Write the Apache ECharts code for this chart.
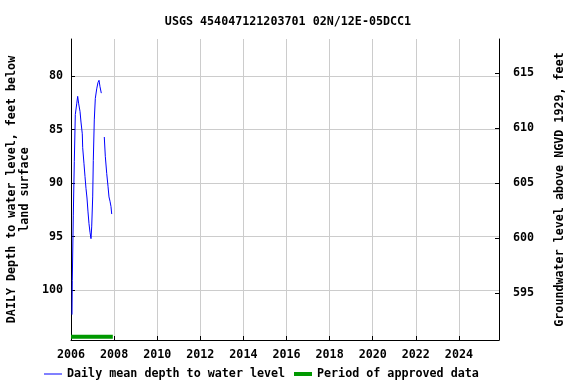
<!DOCTYPE html>
<html><head><meta charset="utf-8">
<script src="https://cdn.jsdelivr.net/npm/echarts@6/dist/echarts.min.js"></script>
<style>html,body{margin:0;padding:0;background:#fff}#c{width:576px;height:384px}</style>
</head><body><div id="c"></div>
<script>
// decimal years
var years = [2006.046,2006.06,2006.107,2006.153,2006.2,2006.265,2006.31,2006.357,2006.418,2006.464,2006.524,2006.543,2006.603,2006.65,2006.696,2006.742,2006.789,2006.835,2006.882,2006.928,2006.96,2007.007,2007.035,2007.081,2007.128,2007.193,2007.253,2007.3,2007.346,2007.406,2007.47,2007.545,2007.592,2007.657,2007.717,2007.763,2007.81,2007.856,2007.889];
var depth = [102.3,99.1,93.0,88.0,83.6,82.6,81.9,82.6,83.3,84.3,85.4,86.7,88.2,89.4,90.5,91.4,92.7,93.8,94.6,95.2,94.1,91.3,87.9,84.1,82.1,81.2,80.6,80.4,81.0,81.6,null,85.7,87.5,89.1,90.3,91.3,91.7,92.2,92.9];
var approvedYears = [2006.0,2007.94];
var approvedLevel = [104.36,104.36];
var xTicks = [2006,2008,2010,2012,2014,2016,2018,2020,2022,2024];
var leftTicks = [80,85,90,95,100];
var rightTicks = [595,600,605,610,615];
var font = 'DejaVu Sans Mono';
var fs = 11.7;
var chart = echarts.init(document.getElementById('c'));
chart.setOption({
  animation:false,
  backgroundColor:'#fff',
  title:{text:'USGS 454047121203701 02N/12E-05DCC1',left:'center',top:11,textStyle:{fontFamily:font,fontSize:fs,fontWeight:'bold',color:'#000'}},
  grid:{left:71,right:77,top:39,bottom:44,outerBoundsMode:'none',containLabel:false},
  xAxis:{type:'value',min:2006,max:2025.86,interval:2,
    axisLine:{show:true,lineStyle:{color:'#000'}},
    axisTick:{show:true,inside:true,length:4,lineStyle:{color:'#000'}},
    axisLabel:{fontFamily:font,fontSize:fs,fontWeight:'bold',color:'#000',margin:9,
      formatter:function(v){return xTicks.indexOf(v)>=0?String(v):'';}},
    splitLine:{show:true,lineStyle:{color:'#cccccc'}}},
  yAxis:[{type:'value',inverse:true,min:76.54,max:104.67,
    name:'DAILY Depth to water level, feet below\nland surface',nameLocation:'middle',nameGap:40,
    nameTextStyle:{fontFamily:font,fontSize:fs,fontWeight:'bold',color:'#000',lineHeight:13},
    axisLine:{show:true,lineStyle:{color:'#000'}},
    axisTick:{show:true,inside:true,length:4,lineStyle:{color:'#000'},customValues:leftTicks},
    axisLabel:{fontFamily:font,fontSize:fs,fontWeight:'bold',color:'#000',margin:8,customValues:leftTicks},
    splitLine:{show:true,lineStyle:{color:'#cccccc'}}},
   {type:'value',min:590.75,max:618.1,position:'right',
    name:'Groundwater level above NGVD 1929, feet',nameLocation:'middle',nameGap:55,nameRotate:90,
    nameTextStyle:{fontFamily:font,fontSize:fs,fontWeight:'bold',color:'#000'},
    axisLine:{show:true,lineStyle:{color:'#000'}},
    axisTick:{show:true,inside:true,length:4,lineStyle:{color:'#000'},customValues:rightTicks},
    axisLabel:{fontFamily:font,fontSize:fs,fontWeight:'bold',color:'#000',margin:14,customValues:rightTicks},
    splitLine:{show:false}}],
  legend:[{bottom:4,left:44,padding:0,itemGap:6,itemWidth:18,itemHeight:1,icon:'rect',
    textStyle:{fontFamily:font,fontSize:fs,fontWeight:'bold',color:'#000'},
    data:['Daily mean depth to water level']},
   {bottom:4,left:294,padding:0,itemGap:6,itemWidth:18,itemHeight:4,icon:'rect',
    textStyle:{fontFamily:font,fontSize:fs,fontWeight:'bold',color:'#000'},
    data:['Period of approved data']}],
  series:[
    {name:'Daily mean depth to water level',type:'line',yAxisIndex:0,showSymbol:false,symbol:'none',connectNulls:false,
     lineStyle:{color:'#0000ff',width:1},itemStyle:{color:'#0000ff'},
     data:years.map(function(y,i){return [y,depth[i]];})},
    {name:'Period of approved data',type:'line',yAxisIndex:0,showSymbol:false,symbol:'none',
     lineStyle:{color:'#009900',width:4},itemStyle:{color:'#009900'},
     data:approvedYears.map(function(y,i){return [y,approvedLevel[i]];})}
  ]
});
</script></body></html>
